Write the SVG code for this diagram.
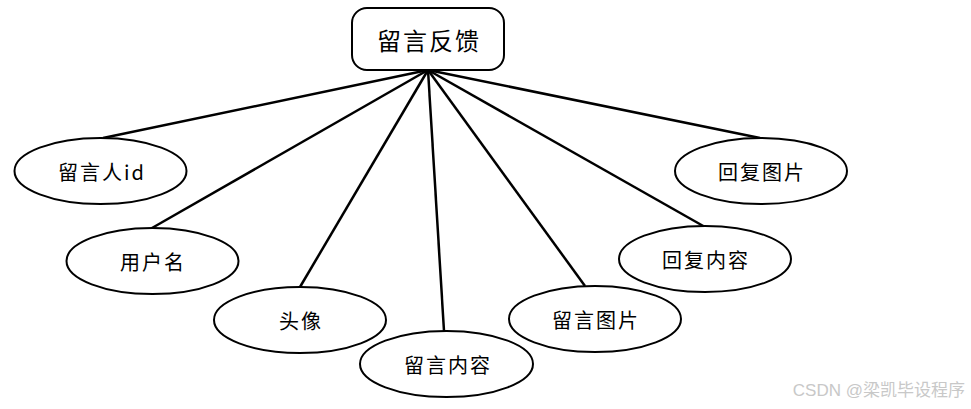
<svg xmlns="http://www.w3.org/2000/svg" width="971" height="409" viewBox="0 0 971 409">
<style>
.n{fill:#fff;stroke:#000;stroke-width:2}
.t{font-family:"Noto Sans CJK SC","Liberation Serif",serif;font-size:20px;fill:#000;text-anchor:middle;dominant-baseline:central;letter-spacing:2px}
.c line{stroke:#000;stroke-width:2.5}
</style>
<rect width="971" height="409" fill="#fff"/>
<g class="c" id="connectors">
<line x1="428" y1="70" x2="103" y2="138"/>
<line x1="428" y1="70" x2="152" y2="228"/>
<line x1="428" y1="70" x2="300" y2="287"/>
<line x1="428" y1="70" x2="444" y2="331"/>
<line x1="428" y1="70" x2="585" y2="286"/>
<line x1="428" y1="70" x2="705" y2="227"/>
<line x1="428" y1="70" x2="760" y2="138"/>
</g>
<g id="root"><rect class="n" x="352" y="8" width="152" height="62" rx="15"/><text class="t" x="429" y="39" style="font-size:24px">留言反馈</text></g>
<g id="n1"><ellipse class="n" cx="100.5" cy="171" rx="86" ry="33"/><text class="t" x="102" y="171">留言人id</text></g>
<g id="n2"><ellipse class="n" cx="152.5" cy="261" rx="86" ry="33"/><text class="t" x="153" y="261">用户名</text></g>
<g id="n3"><ellipse class="n" cx="300" cy="320" rx="86" ry="33"/><text class="t" x="301" y="320">头像</text></g>
<g id="n4"><ellipse class="n" cx="446.5" cy="364" rx="86.5" ry="33"/><text class="t" x="448" y="364">留言内容</text></g>
<g id="n5"><ellipse class="n" cx="595" cy="319" rx="86" ry="33"/><text class="t" x="596" y="319">留言图片</text></g>
<g id="n6"><ellipse class="n" cx="705" cy="259" rx="86" ry="33"/><text class="t" x="706" y="259">回复内容</text></g>
<g id="n7"><ellipse class="n" cx="761" cy="171" rx="86" ry="33"/><text class="t" x="762" y="171">回复图片</text></g>
<text x="965" y="390" style="font-family:'Liberation Sans','Noto Sans CJK SC',sans-serif;font-size:17px;fill:#c8c8c8;text-anchor:end;dominant-baseline:central">CSDN @梁凯毕设程序</text>
</svg>
